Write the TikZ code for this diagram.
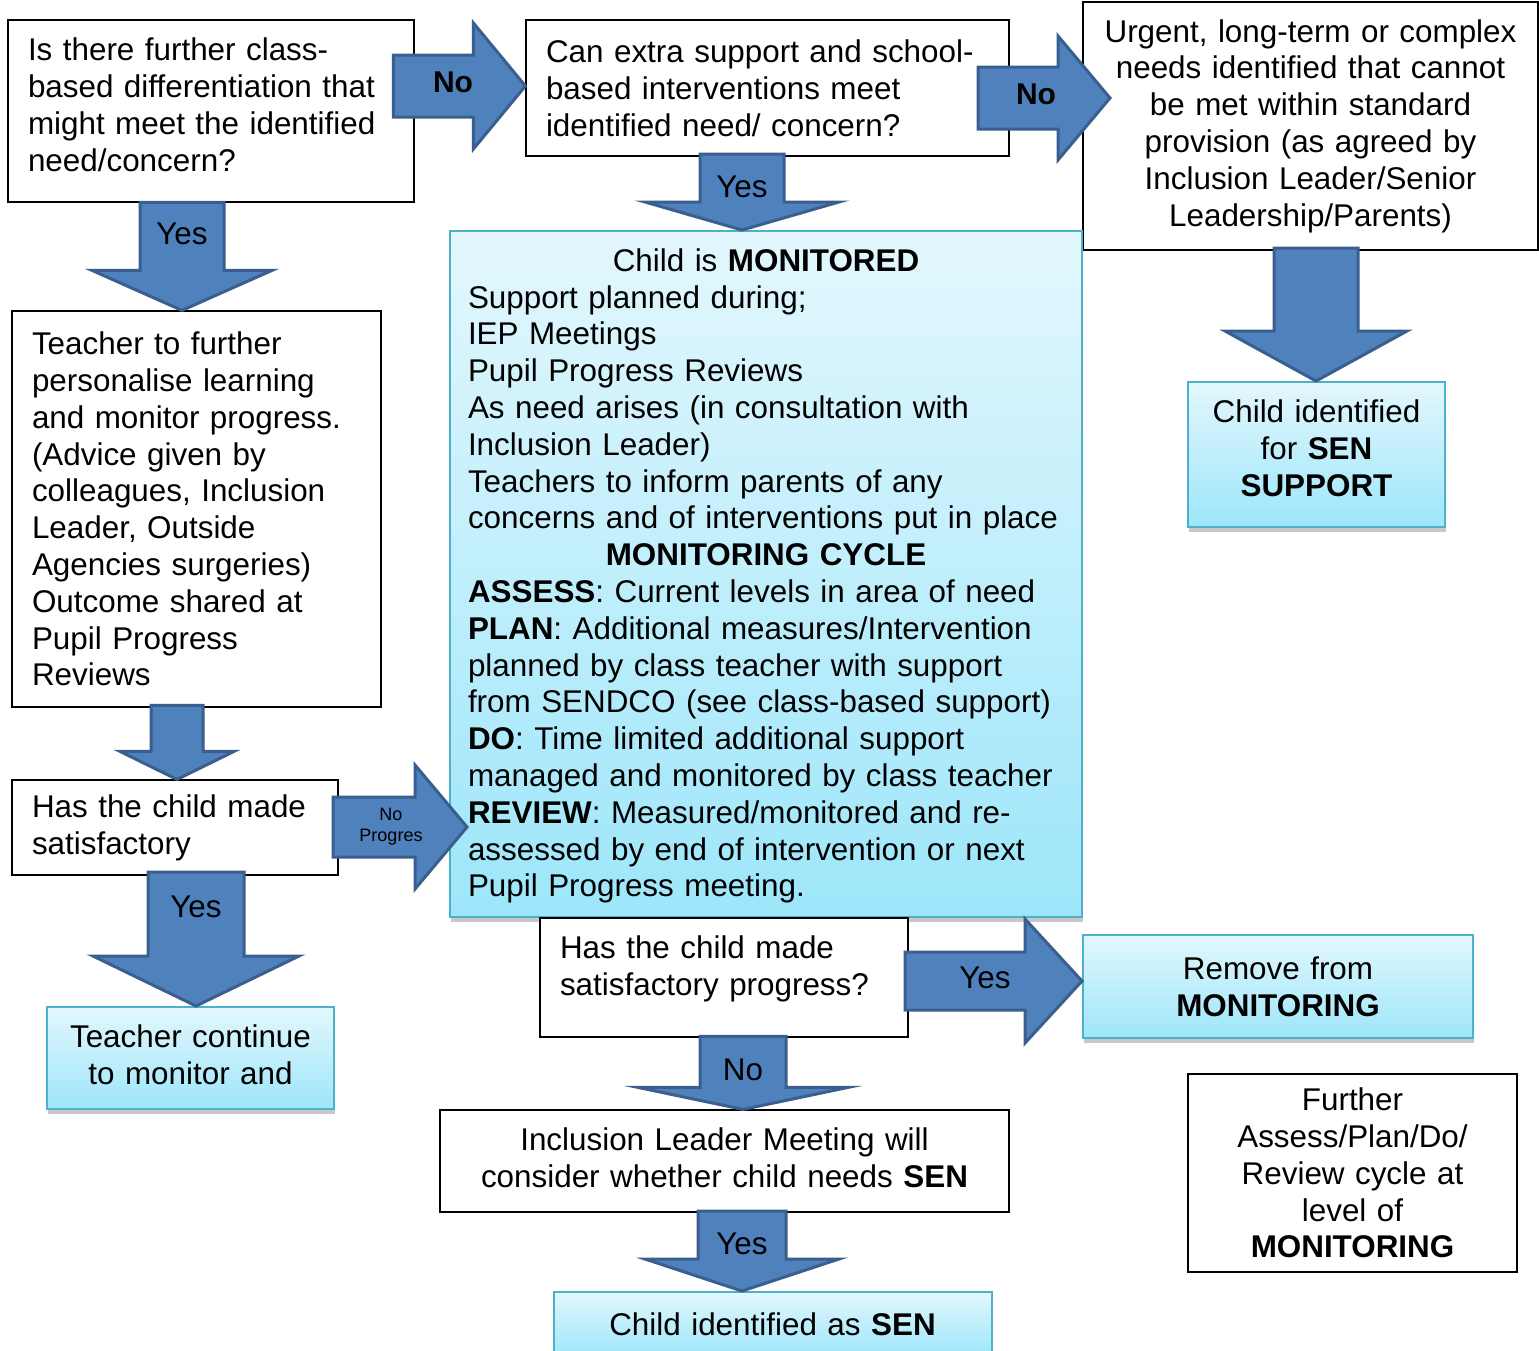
\documentclass[tikz,border=0pt]{standalone}
\usepackage{fontspec}
\setmainfont{Liberation Sans}
\usetikzlibrary{shadows}

\definecolor{arrowfill}{HTML}{4F81BD}
\definecolor{arrowline}{HTML}{3A5F8E}
\definecolor{boxline}{HTML}{4FB0CA}
\definecolor{boxtop}{HTML}{E3F7FD}
\definecolor{boxbottom}{HTML}{9DE6FA}
\definecolor{shadowgrey}{HTML}{C8C8C8}

\tikzset{
    every node/.style={font=\fontsize{31.4}{36.8}\selectfont},
    plainbox/.style={draw=black, line width=1.2pt, fill=white, inner ysep=0pt},
    shadebox/.style={draw=boxline, line width=2pt, top color=boxtop, bottom color=boxbottom, inner ysep=0pt,
        drop shadow={shadow xshift=1pt, shadow yshift=-5pt, fill=shadowgrey, opacity=1}},
    blockarrow/.style={draw=arrowline, fill=arrowfill, line width=3pt, line join=miter},
    arrowlabel/.style={inner sep=0pt},
    nolabel/.style={inner sep=0pt, font=\fontsize{30}{34}\selectfont\bfseries},
}

% tip, length, head length, shaft half width, head half width
\newcommand{\DownArrow}[5]{%
    \draw[blockarrow, shift={(#1)}] (-#4,-#2) -- (#4,-#2) -- (#4,-#3) -- (#5,-#3) -- (0,0) -- (-#5,-#3) -- (-#4,-#3) -- cycle;%
}
\newcommand{\RightArrow}[5]{%
    \draw[blockarrow, shift={(#1)}] (-#2,-#4) -- (-#3,-#4) -- (-#3,-#5) -- (0,0) -- (-#3,#5) -- (-#3,#4) -- (-#2,#4) -- cycle;%
}

\begin{document}
\begin{tikzpicture}[x=1pt, y=-1pt]
    \useasboundingbox (0,0) rectangle (1539,1350);
    \fill[white] (0,0) rectangle (1539,1350);

    \node[plainbox, align=left, inner xsep=20pt, text width=366pt, minimum width=406pt, minimum height=182pt, text depth=123pt] (diff) at (211,111)
        {Is there further class-\\based differentiation that\\might meet the identified\\need/concern?};
    \node[plainbox, align=left, inner xsep=20pt, text width=443pt, minimum width=483pt, minimum height=136pt] (extra) at (767.5,88)
        {Can extra support and school-\\based interventions meet\\identified need/ concern?};
    \node[plainbox, align=center, inner xsep=10pt, text width=435pt, minimum width=455pt, minimum height=248pt] (urgent) at (1310.5,126)
        {Urgent, long-term or complex\\needs identified that cannot\\be met within standard\\provision (as agreed by\\Inclusion Leader/Senior\\Leadership/Parents)};
    \node[shadebox, align=center, inner xsep=10pt, text width=237pt, minimum width=257pt, minimum height=145pt, text depth=86pt] (support) at (1316.5,454.5)
        {Child identified\\for \textbf{SEN}\\\textbf{SUPPORT}};

    \node[plainbox, align=left, inner xsep=20pt, text width=329pt, minimum width=369pt, minimum height=396pt] (teacher) at (196.5,509)
        {Teacher to further\\personalise learning\\and monitor progress.\\(Advice given by\\colleagues, Inclusion\\Leader, Outside\\Agencies surgeries)\\Outcome shared at\\Pupil Progress\\Reviews};
    \node[plainbox, align=left, inner xsep=20pt, text width=286pt, minimum width=326pt, minimum height=95pt] (made1) at (175,827.5)
        {Has the child made\\satisfactory};
    \node[shadebox, align=center, inner xsep=10pt, text width=267pt, minimum width=287pt, minimum height=102pt, text depth=43pt] (cont) at (190.5,1058)
        {Teacher continue\\to monitor and};

    \node[shadebox, align=left, inner xsep=18pt, text width=596pt, minimum width=632pt, minimum height=686pt, text depth=628pt] (mon) at (766,574)
        {\makebox[596pt]{Child is \textbf{MONITORED}}\\
        Support planned during;\\
        IEP Meetings\\
        Pupil Progress Reviews\\
        As need arises (in consultation with\\
        Inclusion Leader)\\
        Teachers to inform parents of any\\
        concerns and of interventions put in place\\
        \makebox[596pt]{\textbf{MONITORING CYCLE}}\\
        \textbf{ASSESS}: Current levels in area of need\\
        \textbf{PLAN}: Additional measures/Intervention\\
        planned by class teacher with support\\
        from SENDCO (see class-based support)\\
        \textbf{DO}: Time limited additional support\\
        managed and monitored by class teacher\\
        \textbf{REVIEW}: Measured/monitored and re-\\
        assessed by end of intervention or next\\
        Pupil Progress meeting.};

    \node[plainbox, align=left, inner xsep=20pt, text width=328pt, minimum width=368pt, minimum height=119pt, text depth=61pt] (made2) at (724,977.5)
        {Has the child made\\satisfactory progress?};
    \node[shadebox, align=center, inner xsep=10pt, text width=370pt, minimum width=390pt, minimum height=103pt] (remove) at (1278,986.5)
        {Remove from\\\textbf{MONITORING}};
    \node[plainbox, align=center, inner xsep=10pt, text width=549pt, minimum width=569pt, minimum height=102pt, text depth=43pt] (meeting) at (724.5,1161)
        {Inclusion Leader Meeting will\\consider whether child needs \textbf{SEN}};
    \node[shadebox, align=center, inner xsep=10pt, text width=418pt, minimum width=438pt, minimum height=64pt] (sen) at (772.5,1324)
        {Child identified as \textbf{SEN}};
    \node[plainbox, align=center, inner xsep=10pt, text width=309pt, minimum width=329pt, minimum height=198pt] (further) at (1352.5,1173)
        {Further\\Assess/Plan/Do/\\Review cycle at\\level of\\\textbf{MONITORING}};

    \RightArrow{extra.west |- 0,86}{132}{52}{31}{63}
    \node[nolabel] (no1) at (453,82) {No};
    \RightArrow{1110,98}{132}{52}{31}{62}
    \node[nolabel] (no2) at (1036,94) {No};
    \DownArrow{1316,0 |- support.north}{133}{50}{42}{91}
    \DownArrow{182,0 |- teacher.north}{108}{40}{42}{90}
    \node[arrowlabel] (yes1) at (182,234) {Yes};
    \DownArrow{177,0 |- made1.north}{74}{28}{26}{57}
    \RightArrow{467,827}{134}{52}{30}{62}
    \node[arrowlabel, align=center, font=\fontsize{18}{21}\selectfont] (noprog) at (391,827) {No\\Progres};
    \DownArrow{196,0 |- cont.north}{134}{50}{48}{103}
    \node[arrowlabel] (yes2) at (196,907) {Yes};
    \DownArrow{742,0 |- mon.north}{76}{28}{42}{97}
    \node[arrowlabel] (yes3) at (742,187) {Yes};
    \RightArrow{remove.west |- 0,981}{177}{57}{29}{62}
    \node[arrowlabel] (yes4) at (985,978) {Yes};
    \DownArrow{743,0 |- meeting.north}{73}{22}{43}{105}
    \node[arrowlabel] (no3) at (743,1070) {No};
    \DownArrow{742,0 |- sen.north}{80}{32}{44}{97}
    \node[arrowlabel] (yes5) at (742,1244) {Yes};
\end{tikzpicture}
\end{document}
